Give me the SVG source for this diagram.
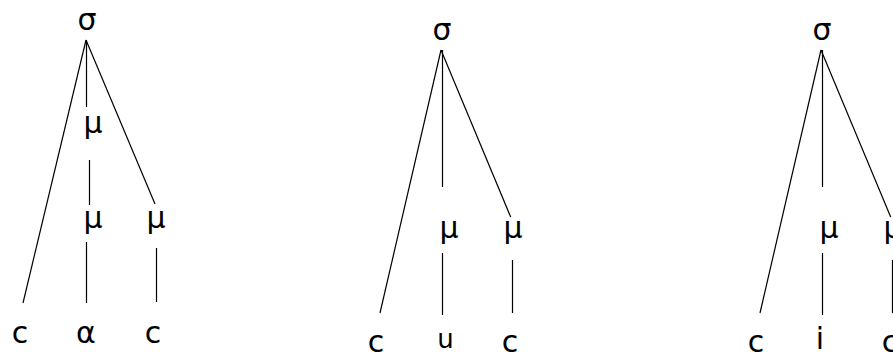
<svg xmlns="http://www.w3.org/2000/svg" width="893" height="353" viewBox="0 0 893 353">
<style>
  .lbl { font-family: "DejaVu Sans", "Liberation Sans", sans-serif; font-size: 30px; fill: #000; text-anchor: middle; }
  .edge { stroke: #000; stroke-width: 1.2; fill: none; }
</style>
<rect width="893" height="353" fill="#fff"/>
<g id="connectors">
  <line class="edge" x1="86" y1="40" x2="23" y2="303"/>
  <line class="edge" x1="86.5" y1="40" x2="86.5" y2="107"/>
  <line class="edge" x1="89.5" y1="160" x2="89.5" y2="205"/>
  <line class="edge" x1="86.5" y1="242" x2="86.5" y2="303"/>
  <line class="edge" x1="86" y1="40" x2="155" y2="204"/>
  <line class="edge" x1="156.5" y1="248" x2="156.5" y2="302"/>

  <line class="edge" x1="441" y1="50" x2="380" y2="313"/>
  <line class="edge" x1="442.5" y1="50" x2="442.5" y2="187"/>
  <line class="edge" x1="442.5" y1="253" x2="442.5" y2="315"/>
  <line class="edge" x1="441" y1="50" x2="510.7" y2="217"/>
  <line class="edge" x1="512.5" y1="260" x2="512.5" y2="313"/>

  <line class="edge" x1="821" y1="50" x2="760" y2="313"/>
  <line class="edge" x1="822.5" y1="50" x2="822.5" y2="187"/>
  <line class="edge" x1="822.5" y1="253" x2="822.5" y2="315"/>
  <line class="edge" x1="821" y1="50" x2="890.7" y2="217"/>
  <line class="edge" x1="892.5" y1="260" x2="892.5" y2="313"/>
</g>
<g id="t1-sigma"><text class="lbl" x="87" y="30">σ</text></g>
<g id="t1-mu1"><text class="lbl" x="93" y="133">μ</text></g>
<g id="t1-mu2"><text class="lbl" x="93" y="228">μ</text></g>
<g id="t1-mu3"><text class="lbl" x="156" y="228">μ</text></g>
<g id="t1-c1"><text class="lbl" x="20" y="343">c</text></g>
<g id="t1-alpha"><text class="lbl" x="86" y="343">α</text></g>
<g id="t1-c2"><text class="lbl" x="153" y="343">c</text></g>

<g id="t2-sigma"><text class="lbl" x="442" y="40">σ</text></g>
<g id="t2-mu1"><text class="lbl" x="449" y="238">μ</text></g>
<g id="t2-mu2"><text class="lbl" x="513" y="238">μ</text></g>
<g id="t2-c1"><text class="lbl" x="376" y="352">c</text></g>
<g id="t2-u"><text class="lbl" x="445.5" y="348" style="font-size:26px">u</text></g>
<g id="t2-c2"><text class="lbl" x="510" y="352">c</text></g>

<g id="t3-sigma"><text class="lbl" x="822" y="40">σ</text></g>
<g id="t3-mu1"><text class="lbl" x="829" y="238">μ</text></g>
<g id="t3-mu2"><text class="lbl" x="893" y="238">μ</text></g>
<g id="t3-c1"><text class="lbl" x="756" y="352">c</text></g>
<g id="t3-i"><text class="lbl" x="820" y="349">i</text></g>
<g id="t3-c2"><text class="lbl" x="890" y="352">c</text></g>
</svg>
